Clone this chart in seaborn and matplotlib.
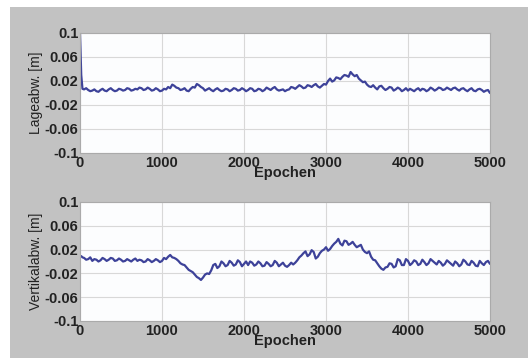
import numpy as np
import pandas as pd
import matplotlib
matplotlib.use("Agg")
import matplotlib.pyplot as plt
import seaborn as sns

# ===== Daten =====
epochen = [0, 15, 30] + list(range(50, 5001, 50))
epochen_mitte = list(range(75, 5000, 50))

lage = [0.100, 0.030, 0.007,
        0.006, 0.005, 0.004, 0.003, 0.005, 0.004, 0.006, 0.005, 0.004, 0.006,
        0.005, 0.007, 0.005, 0.006, 0.008, 0.006, 0.007, 0.005, 0.006, 0.004,
        0.006, 0.008, 0.012, 0.008, 0.006, 0.004, 0.007, 0.009, 0.013, 0.008,
        0.006, 0.005, 0.006, 0.005, 0.004, 0.006, 0.005, 0.007, 0.005, 0.006,
        0.005, 0.007, 0.004, 0.006, 0.005, 0.007, 0.008, 0.006, 0.005, 0.003,
        0.006, 0.009, 0.010, 0.011, 0.009, 0.012, 0.013, 0.011, 0.012, 0.014,
        0.024, 0.021, 0.025, 0.027, 0.029, 0.035, 0.028, 0.024, 0.018, 0.014,
        0.010, 0.009, 0.011, 0.008, 0.007, 0.009, 0.006, 0.007, 0.005, 0.004,
        0.005, 0.006, 0.004, 0.006, 0.005, 0.007, 0.006, 0.008, 0.006, 0.007,
        0.008, 0.006, 0.007, 0.005, 0.006, 0.004, 0.006, 0.005, 0.004, 0.000]

lage_mitte = [0.008, 0.003, 0.006, 0.002, 0.007, 0.003, 0.008, 0.003, 0.007, 0.004,
              0.008, 0.004, 0.007, 0.009, 0.005, 0.009, 0.004, 0.008, 0.003, 0.007,
              0.010, 0.014, 0.009, 0.005, 0.008, 0.003, 0.010, 0.015, 0.010, 0.004,
              0.008, 0.003, 0.008, 0.003, 0.007, 0.003, 0.008, 0.004, 0.008, 0.003,
              0.008, 0.003, 0.007, 0.003, 0.009, 0.005, 0.010, 0.004, 0.006, 0.005,
              0.010, 0.007, 0.013, 0.008, 0.013, 0.010, 0.015, 0.009, 0.015, 0.020,
              0.019, 0.026, 0.023, 0.030, 0.027, 0.031, 0.030, 0.021, 0.019, 0.011,
              0.013, 0.006, 0.012, 0.005, 0.010, 0.004, 0.009, 0.003, 0.008, 0.007,
              0.003, 0.008, 0.007, 0.003, 0.009, 0.004, 0.009, 0.005, 0.009, 0.005,
              0.009, 0.004, 0.008, 0.003, 0.008, 0.003, 0.007, 0.002, 0.005]

vertikal = [0.008, 0.009, 0.007,
            0.006, 0.004, 0.001, 0.003, 0.002, 0.004, 0.003, 0.005, 0.002, 0.003,
            0.001, 0.002, 0.003, 0.001, 0.002, 0.000, 0.002, 0.001, 0.002, 0.001,
            0.004, 0.011, 0.006, 0.001, -0.005, -0.010, -0.016, -0.022, -0.028, -0.027,
            -0.020, -0.015, -0.004, -0.008, -0.003, -0.006, -0.002, -0.005, -0.001, -0.004,
            -0.006, -0.002, -0.005, -0.003, -0.007, -0.004, -0.006, -0.002, -0.005, -0.007,
            -0.006, -0.005, 0.002, 0.010, 0.017, 0.012, 0.016, 0.008, 0.018, 0.024,
            0.021, 0.030, 0.038, 0.027, 0.034, 0.030, 0.028, 0.026, 0.020, 0.014,
            0.008, 0.002, -0.008, -0.014, -0.009, -0.004, -0.008, 0.002, -0.006, 0.001,
            -0.003, 0.000, -0.004, -0.001, -0.003, 0.001, -0.005, -0.002, -0.004, -0.001,
            -0.007, -0.003, -0.005, 0.000, -0.006, -0.002, -0.008, -0.003, -0.001, -0.004]

vertikal_mitte = [0.003, 0.007, 0.004, 0.000, 0.006, 0.001, 0.006, 0.001, 0.005, 0.000,
                  0.004, 0.000, 0.005, 0.003, -0.001, 0.004, -0.001, 0.004, -0.001, 0.006,
                  0.008, 0.007, 0.004, -0.003, -0.006, -0.014, -0.018, -0.026, -0.031, -0.022,
                  -0.021, -0.006, -0.011, 0.000, -0.008, 0.001, -0.007, 0.002, -0.008, 0.000,
                  0.000, -0.007, 0.000, -0.008, -0.001, -0.008, 0.001, -0.008, -0.002, -0.009,
                  -0.002, -0.002, 0.007, 0.014, 0.009, 0.019, 0.005, 0.014, 0.020, 0.018,
                  0.026, 0.033, 0.030, 0.035, 0.028, 0.033, 0.024, 0.028, 0.016, 0.017,
                  0.003, -0.003, -0.012, -0.010, -0.003, -0.010, 0.004, -0.006, 0.004, -0.006,
                  0.002, -0.006, 0.003, -0.006, 0.004, -0.002, 0.001, -0.007, 0.002, -0.004,
                  0.000, -0.008, 0.003, -0.005, 0.001, -0.007, 0.001, -0.006, 0.001]

yticks = [0.1, 0.06, 0.02, -0.02, -0.06, -0.1]
ytick_labels = ["0.1", "0.06", "0.02", "-0.02", "-0.06", "-0.1"]
xticks = [0, 1000, 2000, 3000, 4000, 5000]

df = pd.concat([
    pd.DataFrame({"Epochen": epochen, "Lage": lage, "Vertikal": vertikal}),
    pd.DataFrame({"Epochen": epochen_mitte, "Lage": lage_mitte, "Vertikal": vertikal_mitte}),
]).sort_values("Epochen").reset_index(drop=True)

sns.set_theme(style="whitegrid")
plt.rcParams["font.family"] = ["Liberation Sans", "DejaVu Sans"]

fig = plt.figure(figsize=(5.28, 3.58), dpi=100, facecolor="white")
# grauer Hintergrund wie im MATLAB-Fenster
fig.patches.append(plt.Rectangle((10 / 528, 0), 1 - 10 / 528, 1 - 7 / 358,
                                 transform=fig.transFigure, facecolor="#c2c2c2",
                                 edgecolor="none", zorder=-10))

ax1 = fig.add_axes([80 / 528, 1 - 153 / 358, 410 / 528, 120 / 358])
ax2 = fig.add_axes([80 / 528, 1 - 321 / 358, 410 / 528, 119 / 358])

for ax, col, lab in [(ax1, "Lage", "Lageabw. [m]"), (ax2, "Vertikal", "Vertikalabw. [m]")]:
    sns.lineplot(data=df, x="Epochen", y=col, ax=ax, color="#3d4299", linewidth=1.6,
                 estimator=None, sort=False)
    ax.set_facecolor("#fcfdfe")
    ax.set_xlim(0, 5000)
    ax.set_ylim(-0.1, 0.1)
    ax.set_xticks(xticks)
    ax.set_xticklabels([str(t) for t in xticks], fontsize=10.5, fontweight="bold", color="#222222")
    ax.set_yticks(yticks)
    ax.set_yticklabels(ytick_labels, fontsize=10.5, fontweight="bold", color="#222222")
    ax.tick_params(axis="y", direction="in", length=3, pad=1, color="#999999")
    ax.tick_params(axis="x", direction="in", length=3, pad=2, color="#999999")
    ax.grid(True, color="#d8d8d8", linewidth=0.8)
    for s in ax.spines.values():
        s.set_color("#aaaaaa")
        s.set_linewidth(0.8)
    ax.set_xlabel("Epochen", fontsize=10.5, fontweight="bold", color="#222222", labelpad=-3)
    ax.set_ylabel(lab, fontsize=10, color="#222222", labelpad=1)

fig.savefig("out.png", dpi=100, facecolor=fig.get_facecolor())
